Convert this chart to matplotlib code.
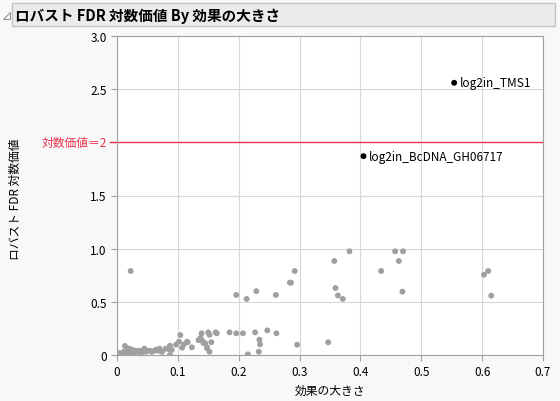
import numpy as np
import matplotlib
matplotlib.use('Agg')
from matplotlib import pyplot as plt
from matplotlib.patches import Rectangle, Polygon

plt.rcParams['font.family'] = ['Noto Sans CJK JP', 'DejaVu Sans']

##########
# data   #
##########
effect_size = [
    0.000, 0.004, 0.008, 0.011, 0.013, 0.016, 0.019, 0.022, 0.025, 0.028,
    0.031, 0.034, 0.037, 0.040, 0.044, 0.047, 0.050, 0.054, 0.057, 0.061,
    0.064, 0.068, 0.070, 0.074, 0.080, 0.085, 0.087, 0.090, 0.087, 0.097,
    0.102, 0.104, 0.107, 0.110, 0.115, 0.116, 0.123, 0.134, 0.137, 0.139,
    0.140, 0.142, 0.145, 0.148, 0.148, 0.150, 0.152, 0.152, 0.155, 0.162,
    0.164, 0.185, 0.196, 0.207, 0.215, 0.227, 0.233, 0.234, 0.235, 0.247,
    0.262, 0.296, 0.347, 0.0225, 0.292, 0.284, 0.286, 0.229, 0.196, 0.213,
    0.261, 0.382, 0.357, 0.359, 0.363, 0.371, 0.457, 0.470, 0.463, 0.434,
    0.469, 0.603, 0.610, 0.615, 0.013, 0.020, 0.045, 0.066,
]
log_fdr = [
    0.01, 0.02, 0.00, 0.03, 0.02, 0.04, 0.01, 0.03, 0.05, 0.02,
    0.04, 0.03, 0.04, 0.02, 0.04, 0.03, 0.04, 0.04, 0.03, 0.04,
    0.05, 0.04, 0.06, 0.03, 0.06, 0.056, 0.087, 0.047, 0.00, 0.097,
    0.125, 0.188, 0.069, 0.10, 0.125, 0.12, 0.072, 0.14, 0.16, 0.204,
    0.135, 0.113, 0.11, 0.072, 0.063, 0.213, 0.19, 0.031, 0.12, 0.213,
    0.204, 0.213, 0.204, 0.204, 0.006, 0.213, 0.031, 0.144, 0.10, 0.232,
    0.204, 0.097, 0.12, 0.79, 0.79, 0.68, 0.68, 0.60, 0.565, 0.527,
    0.565, 0.975, 0.884, 0.63, 0.56, 0.527, 0.975, 0.975, 0.884, 0.79,
    0.596, 0.755, 0.79, 0.558, 0.085, 0.06, 0.06, 0.05,
]

label_x = [0.554, 0.405]
label_y = [2.56, 1.87]
label_names = ['log2in_TMS1', 'log2in_BcDNA_GH06717']

ref_value = 2.0
x_ticks = [0, 0.1, 0.2, 0.3, 0.4, 0.5, 0.6, 0.7]
x_tick_labels = ['0', '0.1', '0.2', '0.3', '0.4', '0.5', '0.6', '0.7']
y_ticks = [0, 0.5, 1.0, 1.5, 2.0, 2.5, 3.0]
y_tick_labels = ['0', '0.5', '1.0', '1.5', '', '2.5', '3.0']

#################
# plot the data #
#################
W, H = 560, 402
fig = plt.figure(figsize=(W / 100, H / 100), dpi=100)
fig.patch.set_facecolor('#f8f8f8')

# title bar
fig.add_artist(Rectangle((12 / W, 1 - 27 / H), 543 / W, 23 / H,
                         transform=fig.transFigure, facecolor='#ebebeb',
                         edgecolor='#c4c4c4', lw=1))
fig.add_artist(Polygon([[3 / W, 1 - 20 / H], [10 / W, 1 - 20 / H], [10 / W, 1 - 13 / H]],
                       closed=True, transform=fig.transFigure,
                       facecolor='white', edgecolor='#909090', lw=0.8))
fig.text(15 / W, 1 - 15.5 / H, 'ロバスト FDR 対数価値 By 効果の大きさ',
         fontsize=10.5, fontweight='bold', va='center', ha='left')

ax = fig.add_axes([117 / W, 1 - 356 / H, 426 / W, 319 / H])
ax.set_facecolor('white')

ax.scatter(effect_size, log_fdr, s=18, color='#a0a0a0', edgecolors='none', zorder=3)
ax.scatter(label_x, label_y, s=18, color='black', edgecolors='none', zorder=4)
for xv, yv, nm in zip(label_x, label_y, label_names):
    ax.annotate(nm, (xv, yv), xytext=(4, 0), textcoords='offset points',
                va='center', ha='left', fontsize=8.5, color='black')

ax.axhline(ref_value, color='#e8354d', lw=1, zorder=2)
ax.plot([-0.012, 0], [ref_value, ref_value], color='#e8354d', lw=1, clip_on=False)
ax.text(-0.016, ref_value, '対数価値＝2', color='#e8354d', fontsize=8.5,
        ha='right', va='center')

ax.set_xlim(0, 0.7)
ax.set_ylim(0, 3.0)
ax.set_xticks(x_ticks)
ax.set_xticklabels(x_tick_labels)
ax.set_yticks(y_ticks)
ax.set_yticklabels(y_tick_labels)
ax.grid(True, color='#d8d8d8', lw=0.8, zorder=0)
ax.set_axisbelow(True)
for sp in ax.spines.values():
    sp.set_color('#a0a0a0')
ax.tick_params(colors='#a0a0a0', labelcolor='black', labelsize=8.5, length=4)

ax.set_xlabel('効果の大きさ', fontsize=8.5, labelpad=4)
ax.set_ylabel('ロバスト FDR 対数価値', fontsize=8.5)
ax.yaxis.set_label_coords(-0.222, 0.49)

plt.savefig('out.png', dpi=100, facecolor=fig.get_facecolor())
